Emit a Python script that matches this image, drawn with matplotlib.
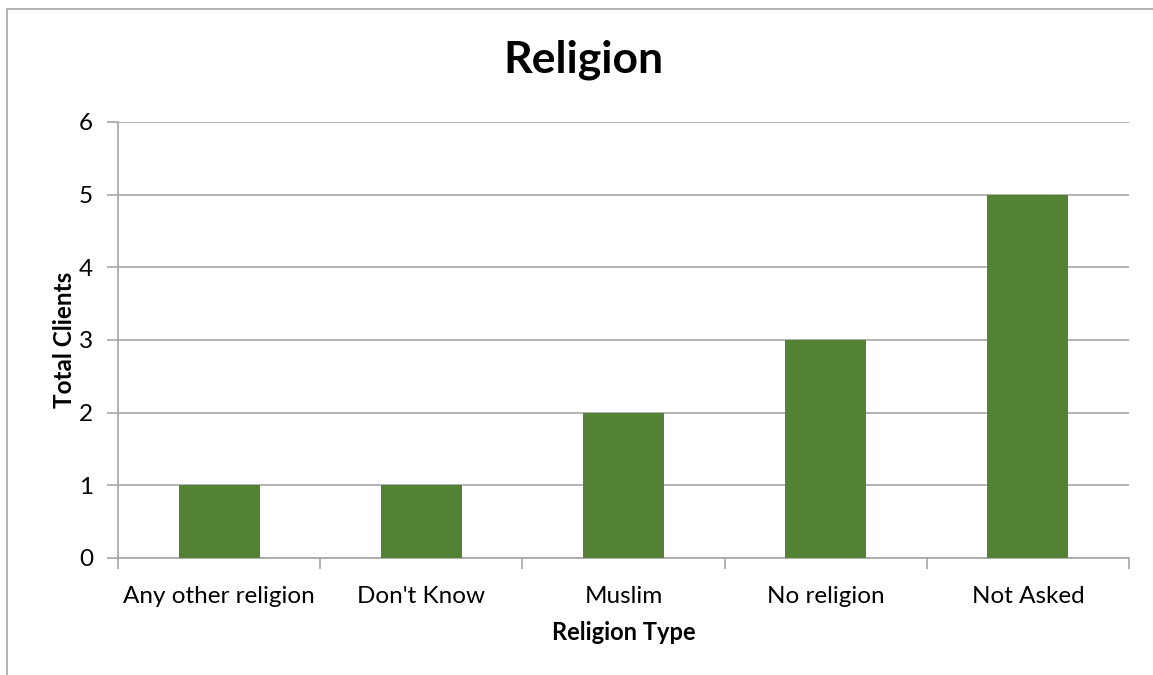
from matplotlib import pyplot as plt
from matplotlib.patches import Rectangle

categories = ["Any other religion", "Don't Know", "Muslim", "No religion", "Not Asked"]
clients = [1, 1, 2, 3, 5]

plt.rcParams['font.family'] = ['Lato', 'DejaVu Sans']

W, H = 1153, 675
fig = plt.figure(figsize=(W / 100, H / 100), dpi=100)

# chart border (left/top only visible)
fig.patches.append(Rectangle((7 / W, -0.1), 1.2, 1 - 9 / H + 0.1, transform=fig.transFigure,
                             fill=False, edgecolor="#a6a6a6", linewidth=1.2))

ax = fig.add_axes([118 / W, 1 - 558 / H, (1129 - 118) / W, (558 - 122) / H])
x = list(range(len(categories)))
ax.bar(x, clients, width=0.4, color="#548235", zorder=3)

ax.set_xlim(-0.5, len(categories) - 0.5)
ax.set_ylim(0, 6)
ax.set_yticks(range(0, 7))
ax.yaxis.grid(True, color="#a6a6a6", linewidth=1.2, zorder=0)

ax.set_xticks([i - 0.5 for i in range(len(categories) + 1)])
ax.set_xticklabels([])
ax.set_xticks(x, minor=True)
ax.set_xticklabels(categories, minor=True)
ax.tick_params(axis="x", which="major", length=8, color="#a6a6a6", width=1.2, direction="out")
ax.tick_params(axis="x", which="minor", length=0, pad=20, labelsize=17.5)
ax.tick_params(axis="y", length=8, color="#a6a6a6", width=1.2, pad=10, labelsize=17.5)

for s in ["top", "right"]:
    ax.spines[s].set_visible(False)
for s in ["left", "bottom"]:
    ax.spines[s].set_color("#a6a6a6")
    ax.spines[s].set_linewidth(1.2)

ax.set_xlabel("Religion Type", fontsize=17, fontweight="bold", labelpad=10)
ax.set_ylabel("Total Clients", fontsize=17.5, fontweight="bold", labelpad=2)
fig.text(583 / W, 1 - 60 / H, "Religion", fontsize=32, fontweight="bold", ha="center", va="center")

fig.savefig("out.png", dpi=100)
